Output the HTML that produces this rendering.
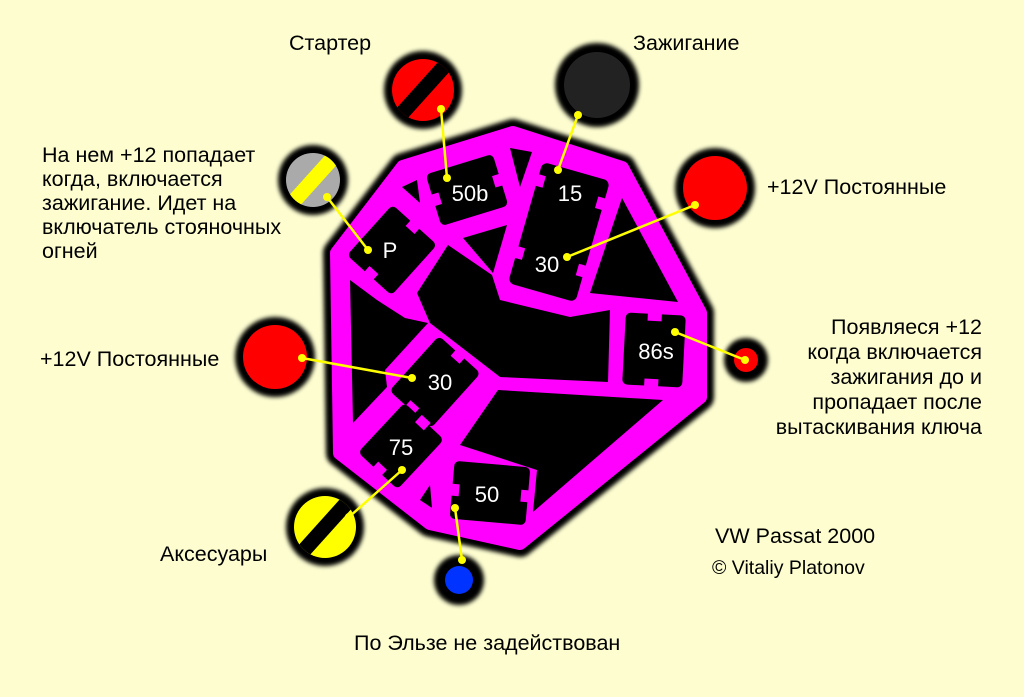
<!DOCTYPE html>
<html><head><meta charset="utf-8"><style>
html,body{margin:0;padding:0;background:#fdfdd0;}
svg{display:block}
text{font-family:"Liberation Sans",sans-serif;}
</style></head><body>
<svg width="1024" height="697" viewBox="0 0 1024 697" xmlns="http://www.w3.org/2000/svg">
<defs>
<filter id="b" x="-30%" y="-30%" width="160%" height="160%"><feGaussianBlur stdDeviation="2"/></filter>
<clipPath id="c1"><circle cx="423" cy="90" r="31"/></clipPath>
<clipPath id="c2"><circle cx="313" cy="180" r="27"/></clipPath>
<clipPath id="c3"><circle cx="325" cy="527" r="31"/></clipPath>
</defs>
<rect width="1024" height="697" fill="#fdfdd0"/>
<polygon points="513,133 622,168 700,313 700,397 520,543 430,523 340,453 337,253 403,167" fill="#000" stroke="#000" stroke-width="28" stroke-linejoin="round" filter="url(#b)"/>
<polygon points="513,133 622,168 700,313 700,397 520,543 430,523 340,453 337,253 403,167" fill="#f0f" stroke="#f0f" stroke-width="14" stroke-linejoin="round"/>
<g fill="#000">
<polygon points="402,187 417,180 420,203"/>
<polygon points="510,148 532,152 520,187"/>
<polygon points="622,198 678,302 590,293"/>
<polygon points="448,245 492,275 500,300 570,317 610,310 608,382 500,377 430,323 417,293"/>
<polygon points="350,280 377,300 405,318 428,323 385,370 387,387 353,423"/>
<polygon points="498,390 663,400 533,512 537,470 460,445"/>
<polygon points="420,500 430,485 432,508"/>
<polygon points="463,238 507,225 493,273"/>
</g>
<g transform="translate(467,190) rotate(-17)"><rect x="-35" y="-27" width="70" height="54" rx="5" fill="#000"/><rect x="-38" y="-6" width="10" height="12" fill="#f0f"/><rect x="28" y="-6" width="10" height="12" fill="#f0f"/></g>
<g transform="translate(559,232) rotate(16)"><rect x="-35" y="-63" width="70" height="126" rx="6" fill="#000"/><rect x="-38" y="-50" width="10" height="12" fill="#f0f"/><rect x="28" y="-45" width="10" height="12" fill="#f0f"/><rect x="-38" y="25" width="10" height="12" fill="#f0f"/><rect x="28" y="25" width="10" height="12" fill="#f0f"/></g>
<g transform="translate(392,250) rotate(42)"><rect x="-30" y="-34" width="60" height="68" rx="5" fill="#000"/><rect x="-6" y="-37" width="12" height="10" fill="#f0f"/><rect x="-6" y="27" width="12" height="10" fill="#f0f"/></g>
<g transform="translate(435,382) rotate(42)"><rect x="-28" y="-37" width="56" height="74" rx="5" fill="#000"/><rect x="-6" y="-40" width="12" height="10" fill="#f0f"/><rect x="-6" y="30" width="12" height="10" fill="#f0f"/></g>
<g transform="translate(654,350) rotate(3)"><rect x="-30" y="-36" width="60" height="72" rx="5" fill="#000"/><rect x="-8" y="-39" width="14" height="10" fill="#f0f"/><rect x="-8" y="29" width="14" height="10" fill="#f0f"/></g>
<g transform="translate(401,446) rotate(43)"><rect x="-27" y="-34" width="54" height="68" rx="5" fill="#000"/><rect x="-6" y="-37" width="12" height="10" fill="#f0f"/><rect x="-6" y="27" width="12" height="10" fill="#f0f"/></g>
<g transform="translate(490,493) rotate(5)"><rect x="-38" y="-29" width="76" height="58" rx="5" fill="#000"/><rect x="-41" y="-6" width="10" height="12" fill="#f0f"/><rect x="31" y="-6" width="10" height="12" fill="#f0f"/></g>
<g fill="#fff" font-size="22" text-anchor="middle">
<text x="470" y="201">50b</text><text x="570" y="201">15</text><text x="547" y="272">30</text>
<text x="390" y="258">P</text><text x="440" y="390">30</text><text x="656" y="359">86s</text>
<text x="401" y="455">75</text><text x="487" y="502">50</text>
</g>
<g filter="url(#b)" fill="#000">
<circle cx="423" cy="90" r="39"/><circle cx="597" cy="85" r="42"/><circle cx="715" cy="188" r="40"/>
<circle cx="313" cy="180" r="35"/><circle cx="275" cy="357" r="40"/><circle cx="746" cy="360" r="22"/>
<circle cx="325" cy="527" r="39"/><circle cx="459" cy="580" r="25"/>
</g>
<circle cx="423" cy="90" r="31" fill="#f00"/>
<line x1="450" y1="60" x2="396" y2="120" stroke="#000" stroke-width="15" clip-path="url(#c1)"/>
<circle cx="597" cy="85" r="33" fill="#222"/>
<circle cx="715" cy="188" r="32" fill="#f00"/>
<circle cx="313" cy="180" r="27" fill="#aaa"/>
<line x1="340" y1="150" x2="286" y2="210" stroke="#ff0" stroke-width="15" clip-path="url(#c2)"/>
<circle cx="275" cy="357" r="32" fill="#f00"/>
<circle cx="746" cy="360" r="12" fill="#f00"/>
<circle cx="325" cy="527" r="31" fill="#ff0"/>
<line x1="352" y1="497" x2="298" y2="557" stroke="#000" stroke-width="15" clip-path="url(#c3)"/>
<circle cx="459" cy="580" r="14" fill="#03f"/>
<g stroke="#ff0" stroke-width="2.5">
<line x1="441" y1="109" x2="447" y2="178"/><line x1="578" y1="115" x2="558" y2="170"/>
<line x1="695" y1="205" x2="567" y2="257"/><line x1="327" y1="197" x2="368" y2="250"/>
<line x1="302" y1="358" x2="412" y2="378"/><line x1="675" y1="332" x2="745" y2="360"/>
<line x1="349" y1="517" x2="402" y2="470"/><line x1="455" y1="508" x2="462" y2="560"/>
</g>
<g fill="#ff0">
<circle cx="441" cy="109" r="4"/><circle cx="447" cy="178" r="4"/><circle cx="578" cy="115" r="4"/><circle cx="558" cy="170" r="4"/>
<circle cx="695" cy="205" r="4"/><circle cx="567" cy="257" r="4"/><circle cx="327" cy="197" r="4"/><circle cx="368" cy="250" r="4"/>
<circle cx="302" cy="358" r="4"/><circle cx="412" cy="378" r="4"/><circle cx="675" cy="332" r="4"/><circle cx="745" cy="360" r="4"/>
<circle cx="349" cy="517" r="4"/><circle cx="402" cy="470" r="4"/><circle cx="455" cy="508" r="4"/><circle cx="462" cy="560" r="4"/>
</g>
<g fill="#000" font-size="21.5">
<text x="289" y="50">Стартер</text>
<text x="633" y="50">Зажигание</text>
<text x="767" y="194">+12V Постоянные</text>
<text x="42" y="162">На нем +12 попадает</text>
<text x="42" y="186">когда, включается</text>
<text x="42" y="210">зажигание. Идет на</text>
<text x="42" y="234">включатель стояночных</text>
<text x="42" y="258">огней</text>
<text x="40" y="366">+12V Постоянные</text>
<text x="982" y="334" text-anchor="end">Появляеся +12</text>
<text x="982" y="359" text-anchor="end">когда включается</text>
<text x="982" y="384" text-anchor="end">зажигания до и</text>
<text x="982" y="409" text-anchor="end">пропадает после</text>
<text x="982" y="434" text-anchor="end">вытаскивания ключа</text>
<text x="715" y="543">VW Passat 2000</text>
<text x="712" y="574" font-size="19.5">© Vitaliy Platonov</text>
<text x="160" y="561">Аксесуары</text>
<text x="354" y="650">По Эльзе не задействован</text>
</g>
</svg>
</body></html>
